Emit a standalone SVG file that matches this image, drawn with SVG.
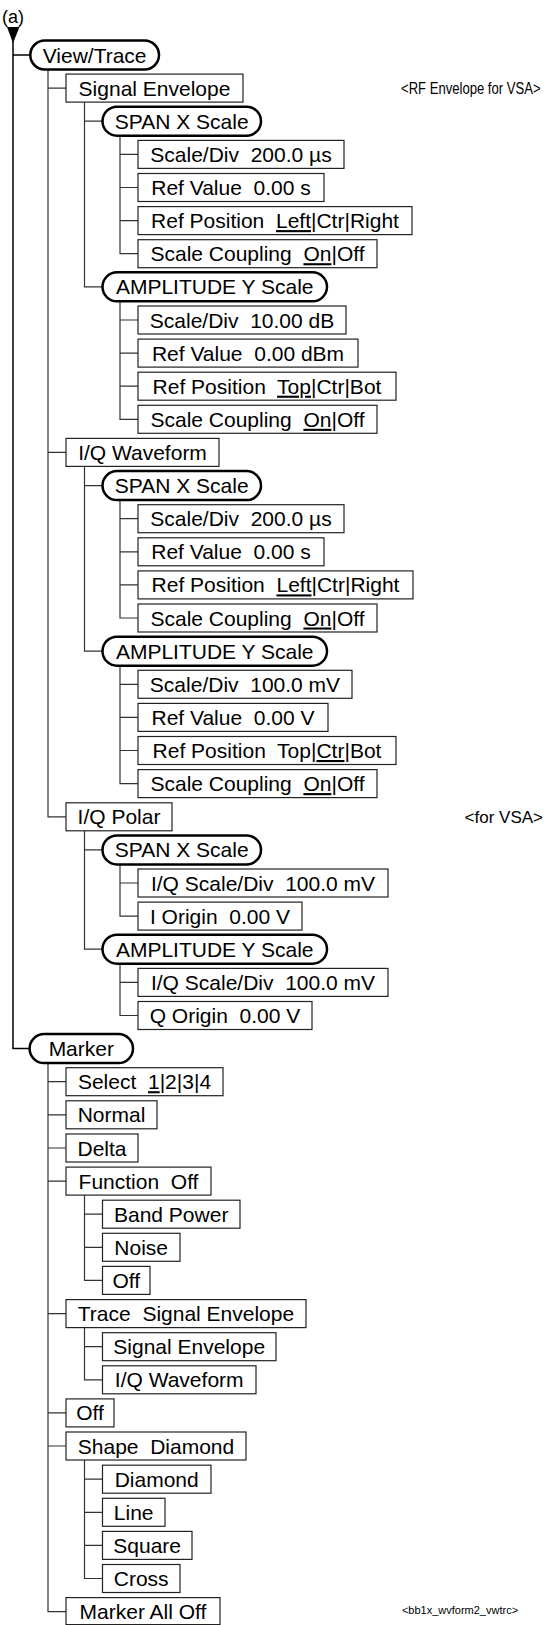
<svg xmlns="http://www.w3.org/2000/svg" width="546" height="1625" viewBox="0 0 546 1625">
<style>
.pill{fill:#fff;stroke:#000;stroke-width:2.5}
.box{fill:#fff;stroke:#222;stroke-width:1.2}
.t{font-family:"Liberation Sans",Arial,sans-serif;font-size:21px;fill:#000;text-anchor:middle}
.u{text-decoration:underline}
.c{stroke:#333;stroke-width:1.2;fill:none}
.trunk{stroke:#000;stroke-width:1.5;fill:none}
.note{font-family:"Liberation Sans",Arial,sans-serif;font-size:17px;fill:#000;text-anchor:end}
</style>
<rect width="546" height="1625" fill="#fff"/>
<text x="2" y="23" style="font-family:'Liberation Sans',Arial,sans-serif;font-size:18px">(a)</text>
<polygon points="7,27 19.5,27 13,43" fill="#000"/>
<g id="connectors">
<path class="trunk" d="M13 27V1048.6H30M13 55H30"/>
<path class="c" d="M48 69.5V816.8H66M48 88.1H66M48 452.4H66"/>
<path class="c" d="M84.5 102.1V286.8H102.5M84.5 121.2H102.5"/>
<path class="c" d="M120 135.7V253.7H138M120 154.4H138M120 187.5H138M120 220.6H138"/>
<path class="c" d="M120 301.3V419.3H138M120 320H138M120 353.1H138M120 386.2H138"/>
<path class="c" d="M84.5 466.4V651.2H102.5M84.5 485.6H102.5"/>
<path class="c" d="M120 500.1V618H138M120 518.7H138M120 551.8H138M120 584.9H138"/>
<path class="c" d="M120 665.7V783.6H138M120 684.3H138M120 717.4H138M120 750.5H138"/>
<path class="c" d="M84.5 830.8V949.2H102.5M84.5 849.9H102.5"/>
<path class="c" d="M120 864.4V916.1H138M120 883H138"/>
<path class="c" d="M120 963.7V1015.5H138M120 982.4H138"/>
<path class="c" d="M48 1063.1V1611.6H66M48 1081.7H66M48 1114.8H66M48 1148H66M48 1181.1H66M48 1313.6H66M48 1412.9H66M48 1446H66"/>
<path class="c" d="M84.5 1195.1V1280.4H102.5M84.5 1214.2H102.5M84.5 1247.3H102.5"/>
<path class="c" d="M84.5 1327.6V1379.8H102.5M84.5 1346.7H102.5"/>
<path class="c" d="M84.5 1460V1578.5H102.5M84.5 1479.2H102.5M84.5 1512.3H102.5M84.5 1545.4H102.5"/>
</g>
<g id="n0"><rect class="pill" x="30.3" y="40.5" width="128.7" height="29" rx="14.5"/><text class="t" x="94.6" y="62.5">View/Trace</text></g>
<g id="n1"><rect class="box" x="66" y="74.1" width="177" height="28"/><text class="t" x="154.5" y="95.6">Signal Envelope</text></g>
<text transform="translate(401,94) scale(0.77,1)" x="0" y="0" style="font-family:'Liberation Sans',Arial,sans-serif;font-size:17px;text-anchor:start">&lt;RF Envelope for VSA&gt;</text>
<g id="n2"><rect class="pill" x="102.5" y="106.7" width="158.5" height="29" rx="14.5"/><text class="t" x="181.7" y="128.7">SPAN X Scale</text></g>
<g id="n3"><rect class="box" x="138" y="140.4" width="206" height="28"/><text class="t" x="241" y="161.9">Scale/Div&#160; 200.0 µs</text></g>
<g id="n4"><rect class="box" x="138" y="173.5" width="186" height="28"/><text class="t" x="231" y="195">Ref Value&#160; 0.00 s</text></g>
<g id="n5"><rect class="box" x="138" y="206.6" width="274" height="28"/><text class="t" x="275" y="228.1">Ref Position&#160; <tspan class="u">Left</tspan>|Ctr|Right</text></g>
<g id="n6"><rect class="box" x="138" y="239.7" width="239" height="28"/><text class="t" x="257.5" y="261.2">Scale Coupling&#160; <tspan class="u">On</tspan>|Off</text></g>
<g id="n7"><rect class="pill" x="102.5" y="272.3" width="224.5" height="29" rx="14.5"/><text class="t" x="214.7" y="294.3">AMPLITUDE Y Scale</text></g>
<g id="n8"><rect class="box" x="138" y="306" width="208" height="28"/><text class="t" x="242" y="327.5">Scale/Div&#160; 10.00 dB</text></g>
<g id="n9"><rect class="box" x="138" y="339.1" width="220" height="28"/><text class="t" x="248" y="360.6">Ref Value&#160; 0.00 dBm</text></g>
<g id="n10"><rect class="box" x="138" y="372.2" width="258" height="28"/><text class="t" x="267" y="393.7">Ref Position&#160; <tspan class="u">Top</tspan>|Ctr|Bot</text></g>
<g id="n11"><rect class="box" x="138" y="405.3" width="239" height="28"/><text class="t" x="257.5" y="426.8">Scale Coupling&#160; <tspan class="u">On</tspan>|Off</text></g>
<g id="n12"><rect class="box" x="66" y="438.4" width="153" height="28"/><text class="t" x="142.5" y="459.9">I/Q Waveform</text></g>
<g id="n13"><rect class="pill" x="102.5" y="471.1" width="158.5" height="29" rx="14.5"/><text class="t" x="181.7" y="493.1">SPAN X Scale</text></g>
<g id="n14"><rect class="box" x="138" y="504.7" width="206" height="28"/><text class="t" x="241" y="526.2">Scale/Div&#160; 200.0 µs</text></g>
<g id="n15"><rect class="box" x="138" y="537.8" width="186" height="28"/><text class="t" x="231" y="559.3">Ref Value&#160; 0.00 s</text></g>
<g id="n16"><rect class="box" x="138" y="570.9" width="275" height="28"/><text class="t" x="275.5" y="592.4">Ref Position&#160; <tspan class="u">Left</tspan>|Ctr|Right</text></g>
<g id="n17"><rect class="box" x="138" y="604" width="239" height="28"/><text class="t" x="257.5" y="625.5">Scale Coupling&#160; <tspan class="u">On</tspan>|Off</text></g>
<g id="n18"><rect class="pill" x="102.5" y="636.7" width="224.5" height="29" rx="14.5"/><text class="t" x="214.7" y="658.7">AMPLITUDE Y Scale</text></g>
<g id="n19"><rect class="box" x="138" y="670.3" width="214" height="28"/><text class="t" x="245" y="691.8">Scale/Div&#160; 100.0 mV</text></g>
<g id="n20"><rect class="box" x="138" y="703.4" width="190" height="28"/><text class="t" x="233" y="724.9">Ref Value&#160; 0.00 V</text></g>
<g id="n21"><rect class="box" x="138" y="736.5" width="258" height="28"/><text class="t" x="267" y="758">Ref Position&#160; Top|<tspan class="u">Ctr</tspan>|Bot</text></g>
<g id="n22"><rect class="box" x="138" y="769.6" width="239" height="28"/><text class="t" x="257.5" y="791.1">Scale Coupling&#160; <tspan class="u">On</tspan>|Off</text></g>
<g id="n23"><rect class="box" x="66" y="802.8" width="106" height="28"/><text class="t" x="119" y="824.3">I/Q Polar</text></g>
<text class="note" x="543" y="823">&lt;for VSA&gt;</text>
<g id="n24"><rect class="pill" x="102.5" y="835.4" width="158.5" height="29" rx="14.5"/><text class="t" x="181.7" y="857.4">SPAN X Scale</text></g>
<g id="n25"><rect class="box" x="138" y="869" width="250" height="28"/><text class="t" x="263" y="890.5">I/Q Scale/Div&#160; 100.0 mV</text></g>
<g id="n26"><rect class="box" x="138" y="902.1" width="164" height="28"/><text class="t" x="220" y="923.6">I Origin&#160; 0.00 V</text></g>
<g id="n27"><rect class="pill" x="102.5" y="934.7" width="224.5" height="29" rx="14.5"/><text class="t" x="214.7" y="956.7">AMPLITUDE Y Scale</text></g>
<g id="n28"><rect class="box" x="138" y="968.4" width="250" height="28"/><text class="t" x="263" y="989.9">I/Q Scale/Div&#160; 100.0 mV</text></g>
<g id="n29"><rect class="box" x="138" y="1001.5" width="174" height="28"/><text class="t" x="225" y="1023">Q Origin&#160; 0.00 V</text></g>
<g id="n30"><rect class="pill" x="29.6" y="1034.1" width="103.4" height="29" rx="14.5"/><text class="t" x="81.3" y="1056.1">Marker</text></g>
<g id="n31"><rect class="box" x="66" y="1067.7" width="157" height="28"/><text class="t" x="144.5" y="1089.2">Select&#160; <tspan class="u">1</tspan>|2|3|4</text></g>
<g id="n32"><rect class="box" x="66" y="1100.8" width="91" height="28"/><text class="t" x="111.5" y="1122.3">Normal</text></g>
<g id="n33"><rect class="box" x="66" y="1134" width="72" height="28"/><text class="t" x="102" y="1155.5">Delta</text></g>
<g id="n34"><rect class="box" x="66" y="1167.1" width="145" height="28"/><text class="t" x="138.5" y="1188.6">Function&#160; Off</text></g>
<g id="n35"><rect class="box" x="102.5" y="1200.2" width="137.5" height="28"/><text class="t" x="171.2" y="1221.7">Band Power</text></g>
<g id="n36"><rect class="box" x="102.5" y="1233.3" width="77.5" height="28"/><text class="t" x="141.2" y="1254.8">Noise</text></g>
<g id="n37"><rect class="box" x="102.5" y="1266.4" width="47.5" height="28"/><text class="t" x="126.2" y="1287.9">Off</text></g>
<g id="n38"><rect class="box" x="66" y="1299.6" width="240" height="28"/><text class="t" x="186" y="1321.1">Trace&#160; Signal Envelope</text></g>
<g id="n39"><rect class="box" x="102.5" y="1332.7" width="173.5" height="28"/><text class="t" x="189.2" y="1354.2">Signal Envelope</text></g>
<g id="n40"><rect class="box" x="102.5" y="1365.8" width="153.5" height="28"/><text class="t" x="179.2" y="1387.3">I/Q Waveform</text></g>
<g id="n41"><rect class="box" x="66" y="1398.9" width="48" height="28"/><text class="t" x="90" y="1420.4">Off</text></g>
<g id="n42"><rect class="box" x="66" y="1432" width="180" height="28"/><text class="t" x="156" y="1453.5">Shape&#160; Diamond</text></g>
<g id="n43"><rect class="box" x="102.5" y="1465.2" width="108.5" height="28"/><text class="t" x="156.7" y="1486.7">Diamond</text></g>
<g id="n44"><rect class="box" x="102.5" y="1498.3" width="62.5" height="28"/><text class="t" x="133.7" y="1519.8">Line</text></g>
<g id="n45"><rect class="box" x="102.5" y="1531.4" width="89.5" height="28"/><text class="t" x="147.2" y="1552.9">Square</text></g>
<g id="n46"><rect class="box" x="102.5" y="1564.5" width="77.5" height="28"/><text class="t" x="141.2" y="1586">Cross</text></g>
<g id="n47"><rect class="box" x="66" y="1597.6" width="154" height="27"/><text class="t" x="143" y="1619.1">Marker All Off</text></g>
<text x="460" y="1614" style="font-family:'Liberation Sans',Arial,sans-serif;font-size:11px;text-anchor:middle">&lt;bb1x_wvform2_vwtrc&gt;</text>
</svg>
